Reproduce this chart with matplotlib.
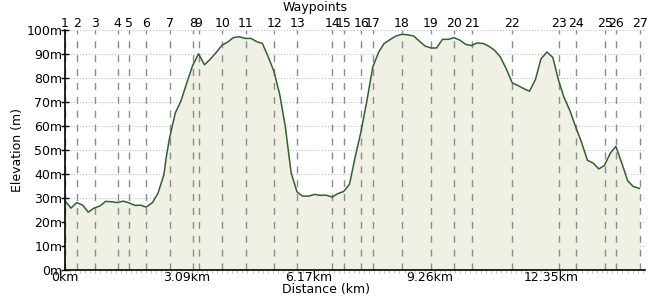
import matplotlib
matplotlib.use("Agg")
import matplotlib.pyplot as plt
from matplotlib.ticker import MultipleLocator

# ---- data ----
distance_km = [0.00, 0.15, 0.30, 0.45, 0.59, 0.74, 0.89, 1.03, 1.19, 1.33, 1.48, 1.62, 1.78,
               1.92, 2.06, 2.22, 2.36, 2.51, 2.57, 2.65, 2.80, 2.94, 3.10, 3.24, 3.39, 3.54,
               3.68, 3.83, 3.98, 4.13, 4.27, 4.42, 4.57, 4.72, 4.87, 5.01, 5.15, 5.30, 5.45,
               5.59, 5.74, 5.89, 6.03, 6.19, 6.33, 6.48, 6.62, 6.78, 6.92, 7.07, 7.22, 7.37,
               7.51, 7.66, 7.81, 7.96, 8.10, 8.26, 8.40, 8.55, 8.70, 8.85, 8.99, 9.14, 9.29,
               9.43, 9.58, 9.73, 9.87, 10.02, 10.17, 10.31, 10.46, 10.61, 10.75, 10.90, 11.05,
               11.20, 11.35, 11.49, 11.64, 11.79, 11.94, 12.08, 12.23, 12.38, 12.52, 12.66,
               12.82, 12.96, 13.10, 13.26, 13.40, 13.55, 13.69, 13.84, 13.98, 14.13, 14.28,
               14.42, 14.58]
elevation_m = [28.8, 25.8, 28.1, 27.0, 24.1, 25.8, 26.7, 28.6, 28.4, 28.1, 28.7, 28.0, 26.9,
               27.0, 26.2, 28.1, 32.0, 39.7, 47.0, 54.7, 65.5, 70.3, 78.4, 85.2, 90.1, 85.5,
               87.7, 90.5, 93.6, 95.0, 96.8, 97.2, 96.5, 96.5, 95.1, 94.4, 89.1, 82.9, 73.1,
               59.9, 40.4, 32.5, 30.8, 30.8, 31.5, 31.1, 31.2, 30.4, 31.8, 32.7, 35.7, 47.5,
               57.5, 70.3, 84.5, 90.8, 94.4, 96.1, 97.5, 98.2, 98.0, 97.5, 95.4, 93.3, 92.5,
               92.5, 96.1, 96.1, 96.8, 95.8, 94.0, 93.5, 94.6, 94.4, 93.3, 91.6, 88.7,
               83.8, 78.0, 76.9, 75.6, 74.5, 79.4, 88.0, 90.8, 88.6, 79.4, 72.1,
               66.2, 59.6, 53.6, 45.7, 44.6, 42.1, 43.6, 48.7, 51.5, 44.6, 37.2,
               34.8, 34.0]
waypoint_km = [0.00, 0.30, 0.75, 1.34, 1.62, 2.06, 2.66, 3.24, 3.39, 3.99, 4.59, 5.31, 5.90,
               6.78, 7.07, 7.52, 7.81, 8.55, 9.28, 9.88, 10.32, 11.35, 12.53, 12.97, 13.71,
               13.99, 14.59]
waypoint_labels = [str(i) for i in range(1, 28)]
x_ticks = [0.0, 3.087, 6.174, 9.261, 12.348]
x_tick_labels = ["0km", "3.09km", "6.17km", "9.26km", "12.35km"]
y_ticks = [0, 10, 20, 30, 40, 50, 60, 70, 80, 90, 100]
y_tick_labels = [f"{v}m" for v in y_ticks]

# ---- figure ----
W, H = 650, 300
fig = plt.figure(figsize=(W / 100, H / 100), dpi=100)
ax = fig.add_axes([65 / W, 30 / H, 580 / W, 240 / H])
ax.set_xlim(0, 14.72)
ax.set_ylim(0, 100)

fs = 9
# horizontal dotted grid
for v in y_ticks[1:]:
    ax.axhline(v, color="#b4b4b4", lw=0.7, ls=(0, (1, 2)), zorder=1)

ax.fill_between(distance_km, elevation_m, 0, color="#f0f0e4", zorder=2, lw=0)
ax.plot(distance_km, elevation_m, color="#365f31", lw=1.1, zorder=4)

# waypoint dashed lines
for wx in waypoint_km:
    ax.axvline(wx, color="#8c8c8c", lw=1.0, ls=(0, (5, 5)), zorder=3)

# waypoint labels
for wx, lab in zip(waypoint_km, waypoint_labels):
    ax.text(wx, 101.2, lab, ha="center", va="baseline", fontsize=fs, color="black",
            transform=ax.transData, clip_on=False)
fig.text(315 / W, 1 - 8 / H, "Waypoints", ha="center", va="center", fontsize=fs)

# spines
for s in ["top", "right"]:
    ax.spines[s].set_visible(False)
ax.spines["left"].set_linewidth(1.2)
ax.spines["bottom"].set_linewidth(1.2)
ax.spines["left"].set_zorder(5)
ax.spines["bottom"].set_zorder(5)

ax.set_yticks(y_ticks)
ax.set_yticklabels(y_tick_labels, fontsize=fs)
ax.tick_params(axis="y", direction="inout", length=6, width=1, pad=-1)

ax.set_xticks(x_ticks)
ax.set_xticklabels(x_tick_labels, fontsize=fs)
ax.tick_params(axis="x", direction="in", length=4, width=1, pad=1)
ax.xaxis.set_minor_locator(MultipleLocator(3.087 / 24))
ax.tick_params(axis="x", which="minor", direction="out", length=2, width=0.6, color="#bbbbbb")

fig.text(326 / W, 1 - 290 / H, "Distance (km)", ha="center", va="center", fontsize=fs)
fig.text(18 / W, 1 - 150 / H, "Elevation (m)", ha="center", va="center", rotation=90, fontsize=fs)

fig.savefig("out.png", dpi=100)
